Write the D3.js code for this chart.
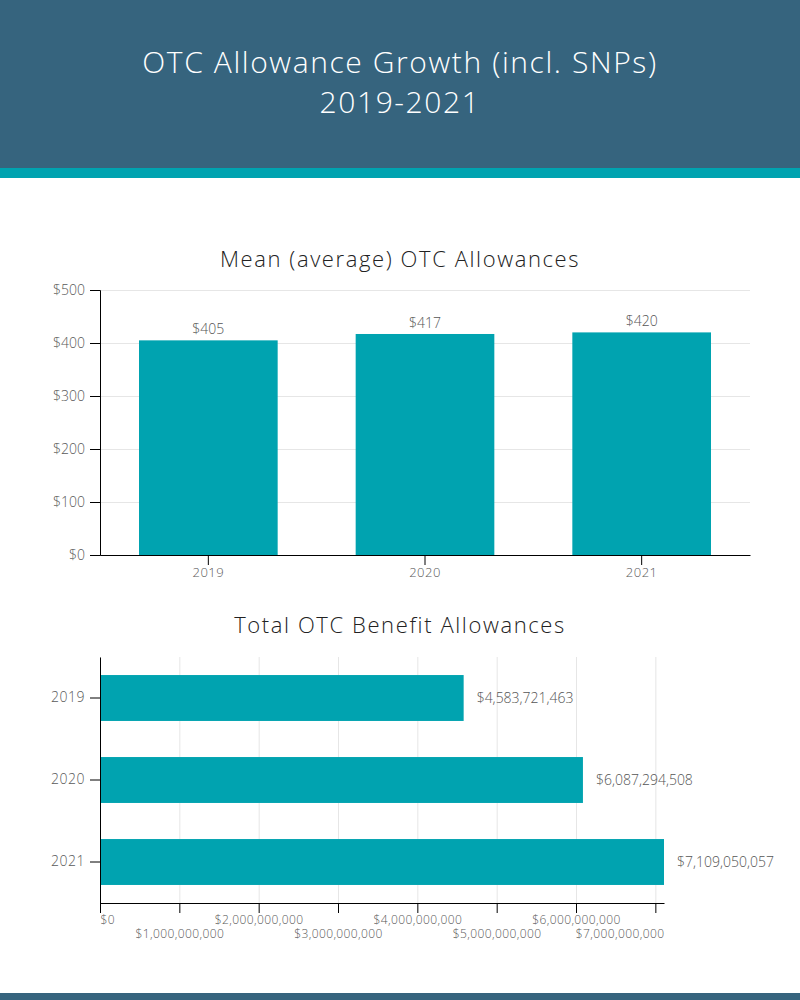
<!DOCTYPE html>
<html lang="en">
<head>
    <meta charset="UTF-8">
    <title>OTC Allowance Growth</title>
    <style>
        body{ margin:0; background:#fff; }
        text{ font-family:"Open Sans", sans-serif; font-weight:300; }
        .grid line{ stroke:#e6e6e6; stroke-width:1px; }
        .grid path{ display:none; }
        .axis path, .axis line{ stroke:#000; }
        .axis text{ fill:#5a5a5a; }
    </style>
    <script src="https://d3js.org/d3.v7.min.js"></script>
</head>
<body>
    <div class="canvas"></div>
    <script>
    const years = ['2019', '2020', '2021'];
    const meanAllowance = [405, 417, 420];
    const totalAllowance = [4583721463, 6087294508, 7109050057];
    const meanTicks = [0, 100, 200, 300, 400, 500];
    const totalTicks = [0, 1e9, 2e9, 3e9, 4e9, 5e9, 6e9, 7e9];

    const teal = '#00a3b0';
    const navy = '#36647e';

    const svg = d3.select('.canvas')
                    .append('svg')
                    .attr('width', 800)
                    .attr('height', 1000);

    // header
    svg.append('rect').attr('x', 0).attr('y', 0).attr('width', 800).attr('height', 168).attr('fill', navy);
    svg.append('rect').attr('x', 0).attr('y', 168).attr('width', 800).attr('height', 10).attr('fill', teal);
    svg.append('rect').attr('x', 0).attr('y', 993).attr('width', 800).attr('height', 7).attr('fill', navy);

    const header = svg.append('text')
        .attr('text-anchor', 'middle')
        .attr('fill', '#fff')
        .style('font-size', '30px')
        .style('letter-spacing', '1.6px');
    header.append('tspan').attr('x', 400).attr('y', 73).text('OTC Allowance Growth (incl. SNPs)');
    header.append('tspan').attr('x', 400).attr('y', 113).text('2019-2021');

    // ---- mean chart ----
    const x1 = d3.scaleBand().domain(years).range([100, 750]).paddingInner(0.36).paddingOuter(0.18);
    const y1 = d3.scaleLinear().domain([0, 500]).range([555, 290]);

    svg.append('text')
        .attr('x', 400).attr('y', 267)
        .attr('text-anchor', 'middle')
        .attr('fill', '#222')
        .style('font-size', '22px')
        .style('letter-spacing', '1.6px')
        .text('Mean (average) OTC Allowances');

    svg.append('g')
        .attr('class', 'grid')
        .attr('transform', 'translate(100,0)')
        .call(d3.axisLeft(y1).tickValues(meanTicks).tickSize(-650).tickFormat(''));

    svg.append('g')
        .selectAll('rect')
        .data(meanAllowance)
        .enter()
        .append('rect')
        .attr('x', (d, i) => x1(years[i]))
        .attr('y', d => y1(d))
        .attr('width', x1.bandwidth())
        .attr('height', d => y1(0) - y1(d))
        .attr('fill', teal);

    svg.append('g')
        .selectAll('text')
        .data(meanAllowance)
        .enter()
        .append('text')
        .attr('x', (d, i) => x1(years[i]) + x1.bandwidth() / 2)
        .attr('y', d => y1(d) - 6)
        .attr('text-anchor', 'middle')
        .attr('fill', '#555')
        .style('font-size', '14px')
        .text(d => d3.format('$,')(d));

    svg.append('g')
        .attr('class', 'axis')
        .attr('transform', 'translate(100,0)')
        .call(d3.axisLeft(y1).tickValues(meanTicks).tickSize(10).tickPadding(5).tickFormat(d3.format('$,')))
        .selectAll('text').style('font-size', '14px');

    svg.append('g')
        .attr('class', 'axis')
        .attr('transform', 'translate(0,555)')
        .call(d3.axisBottom(x1).tickSize(10).tickPadding(3).tickSizeOuter(0))
        .selectAll('text').style('font-size', '13px').style('letter-spacing', '0.5px');

    // ---- total chart ----
    const x2 = d3.scaleLinear().domain([0, d3.max(totalAllowance)]).range([100, 664]);
    const y2 = d3.scaleBand().domain(years).range([657, 903]).paddingInner(0.44).paddingOuter(0.22);

    svg.append('text')
        .attr('x', 400).attr('y', 633)
        .attr('text-anchor', 'middle')
        .attr('fill', '#222')
        .style('font-size', '22px')
        .style('letter-spacing', '1.6px')
        .text('Total OTC Benefit Allowances');

    svg.append('g')
        .attr('class', 'grid')
        .attr('transform', 'translate(0,903)')
        .call(d3.axisBottom(x2).tickValues(totalTicks).tickSize(-246).tickFormat(''));

    svg.append('g')
        .selectAll('rect')
        .data(totalAllowance)
        .enter()
        .append('rect')
        .attr('x', x2(0))
        .attr('y', (d, i) => y2(years[i]))
        .attr('width', d => x2(d) - x2(0))
        .attr('height', y2.bandwidth())
        .attr('fill', teal);

    svg.append('g')
        .selectAll('text')
        .data(totalAllowance)
        .enter()
        .append('text')
        .attr('x', d => x2(d) + 13)
        .attr('y', (d, i) => y2(years[i]) + y2.bandwidth() / 2)
        .attr('dy', '0.35em')
        .attr('fill', '#555')
        .style('font-size', '14px')
        .text(d => d3.format('$,')(d));

    svg.append('g')
        .attr('class', 'axis')
        .attr('transform', 'translate(100,0)')
        .call(d3.axisLeft(y2).tickSize(10).tickPadding(5).tickSizeOuter(0))
        .selectAll('text').style('font-size', '14px').style('letter-spacing', '0.5px');

    const xAxis2 = svg.append('g')
        .attr('class', 'axis')
        .attr('transform', 'translate(0,903)')
        .call(d3.axisBottom(x2).tickValues(totalTicks).tickSize(10).tickPadding(3).tickSizeOuter(0).tickFormat(d3.format('$,')));

    // stagger labels and keep them inside the axis span
    xAxis2.selectAll('.tick text')
        .style('font-size', '12px')
        .style('letter-spacing', '0.4px')
        .attr('y', (d, i) => i % 2 ? 26 : 12)
        .each(function(d) {
            const w = this.getComputedTextLength();
            const cx = x2(d);
            let shift = 0;
            if (cx - w / 2 < 100) shift = 100 - (cx - w / 2);
            if (cx + w / 2 > 664) shift = 664 - (cx + w / 2);
            d3.select(this).attr('x', shift);
        });
    </script>
</body>
</html>
